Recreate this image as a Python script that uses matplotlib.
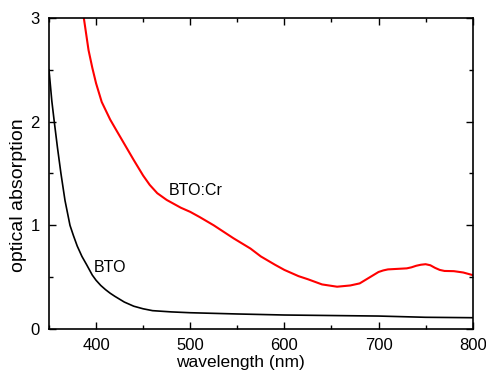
import matplotlib
matplotlib.use("Agg")
import matplotlib.pyplot as plt
from matplotlib.ticker import MultipleLocator

plt.rcParams["font.family"] = ["Liberation Sans", "DejaVu Sans"]
plt.rcParams["font.size"] = 12

# BTO (undoped)
bto_wl = [350, 353, 355.6, 359, 362.7, 367, 372.3, 376, 380, 385, 390, 396, 400,
          405, 410, 415, 420, 430, 440, 450, 460, 480, 500, 550, 600, 650, 700, 750, 800]
bto_abs = [2.5, 2.2, 2.0, 1.75, 1.5, 1.24, 1.0, 0.9, 0.8, 0.7, 0.62, 0.52, 0.47,
           0.42, 0.38, 0.345, 0.315, 0.26, 0.22, 0.195, 0.177, 0.165, 0.157, 0.145, 0.135, 0.13, 0.125, 0.113, 0.109]

# BTO:Cr
cr_wl = [387, 392, 396, 400, 406, 415, 422, 431, 440, 450, 457, 465, 475, 490, 500, 510, 525, 546,
         564, 575, 590, 600, 615, 625, 640, 656, 670, 680, 690, 700, 705, 710, 720, 730, 735, 740,
         745, 750, 755, 760, 765, 770, 780, 790, 800]
cr_abs = [3.0, 2.69, 2.52, 2.37, 2.19, 2.02, 1.91, 1.77, 1.63, 1.48, 1.39, 1.31, 1.245, 1.17, 1.13, 1.08, 1.0, 0.875,
          0.776, 0.70, 0.62, 0.57, 0.51, 0.48, 0.43, 0.408, 0.42, 0.44, 0.495, 0.55, 0.565, 0.575, 0.58, 0.585, 0.595, 0.61,
          0.62, 0.625, 0.615, 0.59, 0.57, 0.56, 0.558, 0.545, 0.52]

fig = plt.figure(figsize=(4.86, 3.74), dpi=100)
ax = fig.add_axes([0.1008, 0.1203, 0.8718, 0.8316])
ax.plot(bto_wl, bto_abs, color="black", lw=1.2)
ax.plot(cr_wl, cr_abs, color="red", lw=1.5)

ax.set_xlim(350, 800)
ax.set_ylim(0, 3)
ax.xaxis.set_major_locator(MultipleLocator(100))
ax.xaxis.set_minor_locator(MultipleLocator(50))
ax.yaxis.set_major_locator(MultipleLocator(1))
ax.yaxis.set_minor_locator(MultipleLocator(0.5))
ax.tick_params(which="both", direction="in", top=True, right=True, width=1)
ax.tick_params(which="major", length=5, pad=6.5)
ax.tick_params(which="minor", length=3)
for s in ax.spines.values():
    s.set_linewidth(1.2)

ax.set_xlabel("wavelength (nm)", fontsize=12.5)
ax.xaxis.set_label_coords(0.451, -0.082)
ax.set_ylabel("optical absorption", fontsize=14)
ax.yaxis.set_label_coords(-0.052, 0.431)
ax.text(397.5, 0.593, "BTO", ha="left", va="center", fontsize=11.5)
ax.text(476.7, 1.333, "BTO:Cr", ha="left", va="center", fontsize=11.5)

fig.savefig("out.png", dpi=100)
